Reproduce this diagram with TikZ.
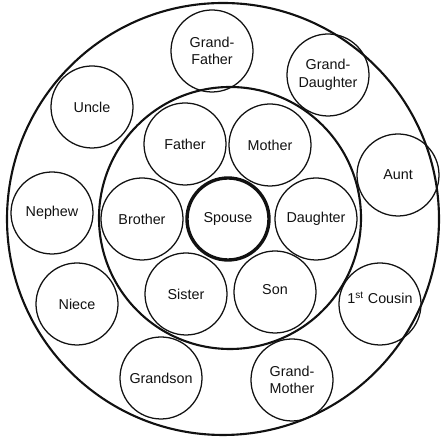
\documentclass[tikz,border=0pt]{standalone}
\usepackage{fontspec}
\setmainfont{Liberation Sans}
\usepackage{xcolor}
\definecolor{kinink}{HTML}{111111}

\begin{document}
\begin{tikzpicture}[
  ring/.style={draw=kinink, line width=1.5pt, circle, inner sep=0pt},
  person/.style={draw=kinink, line width=0.9pt, circle, inner sep=0pt, minimum size=2.05cm, align=center, text=kinink, font=\fontsize{10.2}{12.5}\selectfont},
  self/.style={person, line width=2.4pt}]
\useasboundingbox (0,0) rectangle (11.05,10.95);
\node[ring, minimum size=10.8cm] (outer) at (5.575,5.475) {};
\node[ring, minimum size=6.55cm] (inner) at (5.75,5.5)   {};
\node[self]   (spouse)   at (5.7,5.475)   {Spouse};
\node[person] (father)   at (4.625,7.35)  {Father};
\node[person] (mother)   at (6.75,7.325)  {Mother};
\node[person] (brother)  at (3.55,5.475)  {Brother};
\node[person] (daughter) at (7.9,5.475)   {Daughter};
\node[person] (sister)   at (4.65,3.6)    {Sister};
\node[person] (son)      at (6.875,3.65)  {\raisebox{3pt}{Son}};
\node[person] (gfather)  at (5.3,9.675)   {Grand-\\Father};
\node[person] (gdaught)  at (8.2,9.075)   {Grand-\\Daughter};
\node[person] (uncle)    at (2.3,8.275)   {Uncle};
\node[person] (aunt)     at (9.95,6.575)  {Aunt};
\node[person] (nephew)   at (1.3,5.625)   {Nephew};
\node[person] (niece)    at (1.925,3.35)  {Niece};
\node[person] (grandson) at (4.025,1.5)   {Grandson};
\node[person] (gmother)  at (7.3,1.45)    {Grand-\\Mother};
\node[person] (cousin)   at (9.5,3.35)    {\raisebox{9pt}{1\textsuperscript{st} Cousin}};
\end{tikzpicture}
\end{document}
